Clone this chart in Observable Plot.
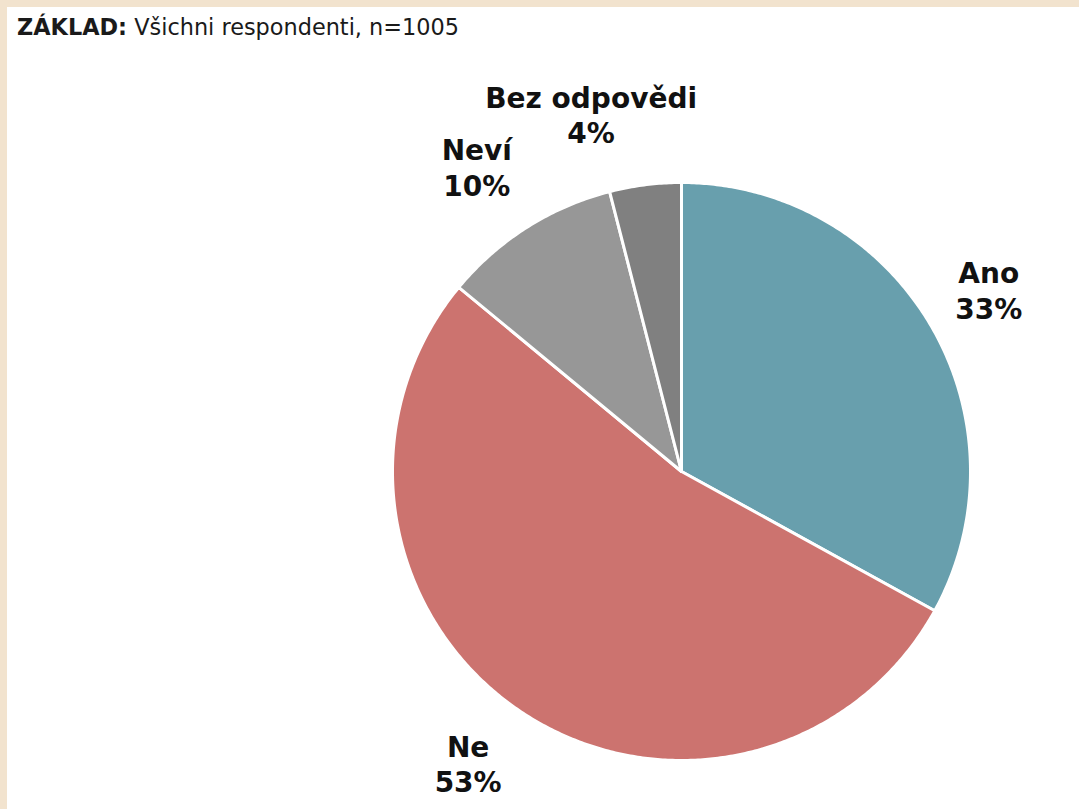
<!DOCTYPE html>
<html><head><meta charset="utf-8">
<script src="https://cdn.jsdelivr.net/npm/d3@7"></script>
<script src="https://cdn.jsdelivr.net/npm/@observablehq/plot@0.6"></script>
<style>
html,body{margin:0;padding:0;background:#F2E3CE;width:1079px;height:809px;overflow:hidden}
#frame{position:absolute;left:7px;top:7px;width:1072px;height:802px;background:#fff}
#title{height:38px;box-sizing:border-box;padding:9px 0 0 10px;font-family:"DejaVu Sans";font-size:22.4px;color:#1a1a1a;line-height:1;white-space:nowrap}
#chart svg{display:block}
</style></head><body>
<div id="frame"><div id="title"><b>ZÁKLAD:</b> Všichni respondenti, n=1005</div><div id="chart"></div></div>
<script>
// ---- data ----
const categories = ["Ano", "Ne", "Neví", "Bez odpovědi"];
const values = [33, 53, 10, 4];
const colors = ["#689FAD", "#CC736F", "#979797", "#808080"];

// ---- layout ----
const W = 1072, H = 764, R = 289, CX = 674, CY = 426;
const labelRadius = {"Ano": 1.235, "Ne": 1.25, "Neví": 1.27, "Bez odpovědi": 1.275};
const angleNudge = {"Ne": 2, "Neví": -1.5, "Bez odpovědi": -7};

const arcs = d3.pie().sort(null).value(d => d)(values);
const pts = [];
arcs.forEach((a, i) => {
  const key = categories[i];
  pts.push({x: 0, y: 0, key});
  const n = Math.max(2, Math.ceil((a.endAngle - a.startAngle) / (Math.PI / 360)));
  for (let k = 0; k <= n; k++) {
    const t = a.startAngle + (a.endAngle - a.startAngle) * k / n;
    pts.push({x: Math.sin(t), y: Math.cos(t), key});
  }
  pts.push({x: 0, y: 0, key});
});
const labelData = arcs.map((a, i) => {
  const key = categories[i];
  const t = (a.startAngle + a.endAngle) / 2 + (angleNudge[key] || 0) * Math.PI / 180;
  const r = labelRadius[key];
  return {x: r * Math.sin(t), y: r * Math.cos(t), text: `${key}\n${values[i]}%`};
});

const chart = Plot.plot({
  width: W, height: H, margin: 0,
  x: {domain: [-CX / R, (W - CX) / R], axis: null},
  y: {domain: [-(H - CY) / R, CY / R], axis: null},
  color: {domain: categories, range: colors},
  style: {background: "transparent"},
  marks: [
    Plot.line(pts, {x: "x", y: "y", z: "key", fill: "key", stroke: "white", strokeWidth: 3, strokeLinejoin: "round", curve: "linear"}),
    Plot.text(labelData, {x: "x", y: "y", text: "text", fontSize: 28, fontWeight: "bold", fontFamily: "DejaVu Sans", lineHeight: 1.27, fill: "#111", textAnchor: "middle"})
  ]
});
document.getElementById("chart").appendChild(chart);
</script>
</body></html>
